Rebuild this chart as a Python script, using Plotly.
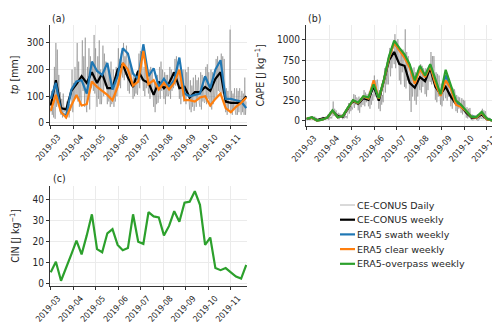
import pandas as pd
import plotly.graph_objects as go

# weekly dates and daily dates
weeks = pd.date_range("2019-03-01", periods=39, freq="7D")
days = pd.date_range("2019-03-01", "2019-11-22", freq="D")

# (a) precipitation tp [mm]
tp_daily = [
    40, 120, 30, 60, 20, 210, 15,
    300, 60, 275, 100, 180, 90, 115,
    30, 90, 20, 110, 40, 60, 35,
    15, 80, 30, 90, 20, 70, 45,
    60, 200, 40, 150, 90, 210, 90,
    110, 300, 80, 230, 60, 160, 75,
    90, 310, 120, 250, 60, 320, 75,
    40, 210, 90, 280, 50, 250, 130,
    140, 230, 120, 330, 110, 280, 120,
    60, 250, 90, 310, 70, 200, 70,
    120, 290, 100, 260, 140, 230, 155,
    70, 210, 80, 190, 60, 230, 70,
    90, 200, 60, 170, 80, 210, 100,
    150, 280, 140, 240, 130, 260, 200,
    170, 300, 160, 250, 180, 290, 190,
    120, 250, 110, 230, 140, 200, 140,
    90, 180, 100, 170, 110, 190, 105,
    150, 260, 130, 270, 160, 230, 165,
    120, 210, 100, 230, 130, 190, 140,
    110, 200, 90, 210, 120, 190, 130,
    60, 160, 40, 150, 70, 180, 75,
    110, 210, 90, 230, 120, 200, 125,
    90, 190, 70, 180, 100, 180, 100,
    110, 210, 90, 200, 120, 190, 130,
    150, 240, 140, 250, 160, 230, 160,
    90, 190, 70, 180, 100, 200, 80,
    90, 200, 70, 190, 100, 210, 85,
    50, 160, 40, 140, 60, 170, 45,
    70, 180, 60, 160, 90, 170, 75,
    60, 190, 50, 180, 80, 170, 75,
    80, 210, 70, 220, 90, 190, 85,
    60, 200, 50, 190, 70, 180, 90,
    110, 240, 100, 250, 120, 220, 115,
    130, 260, 110, 250, 120, 240, 110,
    40, 130, 30, 120, 50, 140, 350,
    40, 120, 30, 110, 50, 130, 45,
    30, 130, 30, 120, 40, 130, 45,
    30, 120, 40, 110, 30, 170, 30,
    80,
]
tp_ce = [65, 160, 55, 50, 120, 145, 175, 150, 190, 150, 185, 130, 130, 200, 220, 170,
         135, 195, 160, 150, 105, 155, 130, 150, 190, 130, 135, 95, 115, 115, 135, 120,
         165, 190, 80, 75, 75, 75, 100]
tp_swath = [90, 150, 40, 25, 125, 155, 160, 110, 230, 195, 180, 225, 125, 175, 280, 260,
            185, 165, 295, 175, 205, 135, 165, 135, 160, 245, 110, 100, 105, 110, 175, 130,
            200, 235, 90, 90, 85, 80, 55]
tp_clear = [45, 105, 40, 20, 65, 105, 65, 70, 155, 135, 120, 105, 85, 135, 225, 200,
            140, 155, 270, 145, 160, 125, 150, 125, 150, 200, 85, 85, 80, 95, 100, 65,
            90, 110, 55, 40, 60, 75, 95]

# (b) CAPE [J kg-1]
cape_daily = [
    10, 40, 20, 50, 10, 30, 15,
    30, 60, 20, 55, 40, 50, 25,
    5, 20, 0, 15, 5, 20, 5,
    20, 50, 10, 45, 20, 40, 25,
    20, 80, 10, 60, 30, 50, 30,
    80, 240, 60, 150, 90, 130, 90,
    30, 100, 20, 90, 50, 80, 50,
    20, 90, 30, 80, 40, 60, 30,
    100, 220, 90, 200, 120, 180, 140,
    180, 330, 160, 320, 200, 290, 270,
    130, 300, 100, 280, 170, 290, 200,
    200, 380, 180, 350, 230, 330, 290,
    180, 360, 150, 350, 200, 330, 250,
    330, 560, 300, 500, 380, 510, 430,
    150, 380, 120, 350, 200, 320, 230,
    380, 650, 350, 600, 450, 620, 450,
    600, 900, 550, 880, 650, 870, 800,
    700, 1070, 650, 980, 750, 1010, 790,
    500, 900, 450, 850, 600, 880, 720,
    420, 1130, 400, 850, 500, 800, 660,
    250, 700, 110, 650, 300, 620, 660,
    250, 600, 200, 550, 300, 530, 440,
    380, 700, 350, 680, 420, 650, 600,
    330, 650, 300, 640, 380, 600, 530,
    480, 850, 450, 800, 520, 800, 650,
    260, 600, 230, 580, 300, 560, 410,
    200, 460, 180, 440, 250, 430, 350,
    280, 600, 250, 560, 300, 520, 430,
    180, 420, 150, 400, 220, 390, 340,
    120, 320, 100, 300, 150, 290, 190,
    100, 280, 80, 260, 130, 250, 160,
    40, 170, 30, 150, 60, 160, 90,
    10, 80, 5, 70, 20, 70, 25,
    10, 80, 0, 70, 20, 75, 25,
    30, 150, 20, 130, 50, 120, 60,
    5, 50, 0, 40, 10, 30, 5,
    0, 15, 0, 10, 0, 10, 0,
    0, 25, 0, 20, 5, 15, 5,
    25,
]
cape_ce = [25, 40, 10, 30, 40, 120, 60, 50, 150, 250, 210, 280, 260, 430, 250, 500,
           750, 850, 700, 680, 470, 410, 540, 490, 650, 420, 330, 420, 300, 210, 180, 100,
           40, 40, 80, 20, 5, 10, 25]
cape_swath = [20, 40, 5, 15, 40, 125, 45, 60, 160, 250, 220, 295, 280, 470, 275, 505,
              785, 970, 880, 800, 680, 480, 660, 550, 690, 480, 320, 560, 420, 220, 180, 120,
              55, 45, 100, 25, 5, 10, 25]
cape_clear = [25, 40, 5, 15, 40, 125, 45, 60, 160, 250, 220, 300, 275, 500, 275, 505,
              780, 960, 870, 780, 660, 460, 640, 540, 680, 460, 310, 500, 400, 200, 170, 120,
              50, 40, 100, 20, 5, 10, 30]
cape_overpass = [25, 45, 5, 15, 40, 130, 45, 60, 165, 255, 225, 305, 290, 450, 280, 510,
                 800, 990, 900, 820, 700, 500, 680, 560, 700, 500, 330, 630, 450, 250, 200, 130,
                 50, 50, 110, 30, 5, 10, 35]

# (c) CIN [J kg-1]
cin_overpass = [5.5, 10.5, 1.5, 7.5, 14, 20.5, 14, 23, 33, 16.5, 15, 24, 26, 18.5, 16, 17,
                33, 20, 19, 34, 32, 31.5, 23, 27.5, 34.5, 29.5, 38.5, 39, 44, 37.5, 18.5, 22,
                7.5, 6.5, 7.5, 5.5, 3.5, 2.5, 9]

month_ticks = pd.date_range("2019-03-01", "2019-11-01", freq="MS")
month_labels = [d.strftime("%Y-%m") for d in month_ticks]

GREY = "rgba(128,128,128,0.65)"
BLUE = "#1f77b4"
ORANGE = "#ff7f0e"
GREEN = "#2ca02c"
TXT = "#262626"
FONT = "DejaVu Sans Condensed, Liberation Sans Narrow, DejaVu Sans"

legend_names = ["CE-CONUS Daily", "CE-CONUS weekly", "ERA5 swath weekly",
                "ERA5 clear weekly", "ERA5-overpass weekly"]
legend_colors = [GREY, "black", BLUE, ORANGE, GREEN]
legend_widths = [0.9, 2.2, 2.2, 2.2, 2.2]

fig = go.Figure()

def line(x, y, name, color, width, xa, ya):
    fig.add_trace(go.Scatter(
        x=x, y=y, name=name, mode="lines", showlegend=False,
        line=dict(color=color, width=width), xaxis=xa, yaxis=ya
    ))

line(days, tp_daily, "CE-CONUS Daily", GREY, 0.8, "x", "y")
line(weeks, tp_ce, "CE-CONUS weekly", "black", 2.2, "x", "y")
line(weeks, tp_swath, "ERA5 swath weekly", BLUE, 2.2, "x", "y")
line(weeks, tp_clear, "ERA5 clear weekly", ORANGE, 2.2, "x", "y")

line(days, cape_daily, "CE-CONUS Daily", GREY, 0.8, "x2", "y2")
line(weeks, cape_ce, "CE-CONUS weekly", "black", 2.2, "x2", "y2")
line(weeks, cape_swath, "ERA5 swath weekly", BLUE, 2.2, "x2", "y2")
line(weeks, cape_clear, "ERA5 clear weekly", ORANGE, 2.2, "x2", "y2")
line(weeks, cape_overpass, "ERA5-overpass weekly", GREEN, 2.2, "x2", "y2")

line(weeks, cin_overpass, "ERA5-overpass weekly", GREEN, 2.2, "x3", "y3")

xrange = ["2019-02-28", "2019-11-23"]
common_x = dict(range=xrange, tickvals=month_ticks, ticktext=month_labels, tickangle=-48,
                ticklabelshift=7, ticklabelstandoff=0, automargin=False,
                showgrid=True, gridcolor="#ebebeb", gridwidth=1, showline=True,
                linecolor="#333333", linewidth=1, ticks="outside", ticklen=3,
                tickcolor="#333333", tickfont=dict(size=8.5, color=TXT, family=FONT),
                zeroline=False)
common_y = dict(showgrid=True, gridcolor="#ebebeb", gridwidth=1, showline=True,
                linecolor="#333333", linewidth=1, ticks="outside", ticklen=3,
                tickcolor="#333333", tickfont=dict(size=10, color=TXT, family=FONT),
                zeroline=False, automargin=False,
                title_font=dict(size=10.5, color=TXT, family=FONT))

fig.update_layout(
    width=500, height=324,
    margin=dict(l=0, r=0, t=0, b=0),
    paper_bgcolor="white", plot_bgcolor="white",
    font=dict(family=FONT, color=TXT),
    showlegend=False,
    xaxis=dict(domain=[0.084, 0.478], anchor="y", **common_x),
    yaxis=dict(domain=[0.639, 0.948], anchor="x", range=[-8, 368],
               tickvals=[0, 100, 200, 300], title_text="<i>tp</i> [mm]",
               title_standoff=10, **common_y),
    xaxis2=dict(domain=[0.596, 0.99], anchor="y2", **common_x),
    yaxis2=dict(domain=[0.636, 0.948], anchor="x2", range=[-62, 1185],
                tickvals=[0, 250, 500, 750, 1000],
                title_text="CAPE [J kg<sup>−1</sup>]", title_standoff=10, **common_y),
    xaxis3=dict(domain=[0.084, 0.478], anchor="y3", **common_x),
    yaxis3=dict(domain=[0.142, 0.451], anchor="x3", range=[-1, 46.5],
                tickvals=[0, 10, 20, 30, 40],
                title_text="CIN [J kg<sup>−1</sup>]", title_standoff=15, **common_y),
)

# hand-drawn legend (matplotlib style, compact rows)
for i, (name, color, width) in enumerate(zip(legend_names, legend_colors, legend_widths)):
    yy = 1 - (197 + i * 14.7) / 324
    fig.add_shape(type="line", xref="paper", yref="paper", x0=0.664, x1=0.694, y0=yy, y1=yy,
                  line=dict(color=color, width=width))
    fig.add_annotation(text=name, x=0.696, y=yy, xref="paper", yref="paper",
                       xanchor="left", yanchor="middle", showarrow=False, borderpad=0,
                       font=dict(size=9.5, color=TXT, family="DejaVu Sans"))

for txt, x, y in [("(a)", 0.084, 0.995), ("(b)", 0.596, 0.995), ("(c)", 0.086, 0.5)]:
    fig.add_annotation(text=txt, x=x, y=y, xref="paper", yref="paper",
                       xanchor="left", yanchor="top", showarrow=False,
                       font=dict(size=10.5, color=TXT, family=FONT))

fig.write_html("out.html")
